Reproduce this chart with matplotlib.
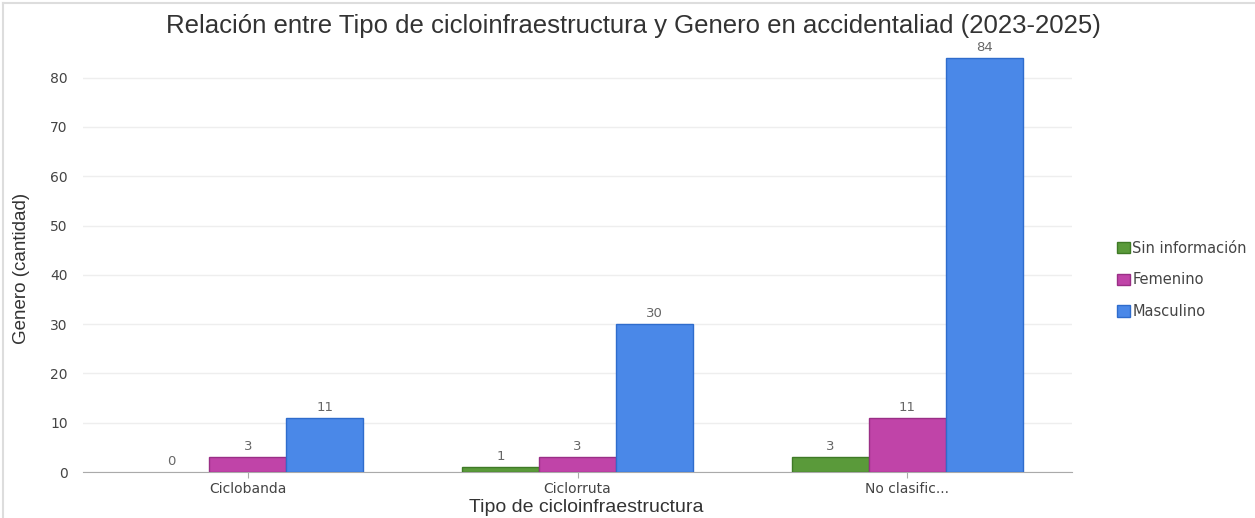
from matplotlib import pyplot as plt
from matplotlib.patches import Patch
from matplotlib.lines import Line2D
import numpy as np

categories = ['Ciclobanda', 'Ciclorruta', 'No clasific...']
series = ['Sin información', 'Femenino', 'Masculino']
sin_info = [0, 1, 3]
femenino = [3, 3, 11]
masculino = [11, 30, 84]

colors = ['#5a9a3a', '#c044a8', '#4a88e8']
edges = ['#3f7a26', '#9a2f86', '#2f6ccc']

W, H = 1255, 518
fig = plt.figure(figsize=(W / 100, H / 100), dpi=100)
ax = fig.add_axes([83 / W, 46 / H, (1072 - 83) / W, (472 - 53) / H])

x = np.arange(len(categories))
w = 0.7 / 3
for i, (vals, name) in enumerate(zip([sin_info, femenino, masculino], series)):
    pos = x + (i - 1) * w
    lw = [1 if v > 0 else 0 for v in vals]
    ax.bar(pos, vals, width=w, color=colors[i], edgecolor=edges[i], linewidth=lw, label=name, zorder=3)
    for p, v in zip(pos, vals):
        ax.text(p, v + 0.8, str(v), ha='center', va='bottom', fontsize=9.5, color='#666666',
                family='DejaVu Sans', clip_on=False)

ax.set_xlim(-0.5, 2.5)
ax.set_ylim(0, 85)
ax.set_yticks(np.arange(0, 81, 10))
ax.set_xticks(x)
ax.set_xticklabels(categories)
ax.grid(axis='y', color='#eeeeee', linewidth=1, zorder=0)
for s in ['top', 'right', 'left']:
    ax.spines[s].set_visible(False)
ax.spines['bottom'].set_color('#aaaaaa')
ax.tick_params(axis='y', length=0, labelsize=10, labelcolor='#444444', pad=11)
ax.tick_params(axis='x', length=4, color='#aaaaaa', labelsize=10, labelcolor='#444444', pad=3)
for t in ax.get_xticklabels() + ax.get_yticklabels():
    t.set_family('DejaVu Sans')

fig.text(633 / W, 1 - 26 / H, 'Relación entre Tipo de cicloinfraestructura y Genero en accidentaliad (2023-2025)',
         ha='center', va='center', fontsize=18.5, color='#333333', family='Liberation Sans')
fig.text(586 / W, 1 - 508 / H, 'Tipo de cicloinfraestructura', ha='center', va='center',
         fontsize=14, color='#333333', family='Liberation Sans')
fig.text(22 / W, 1 - 268 / H, 'Genero (cantidad)', ha='center', va='center', rotation=90,
         fontsize=13.5, color='#333333', family='Liberation Sans')

# thin frame lines at top and left edge
fig.add_artist(Line2D([3 / W, 1], [1 - 3 / H, 1 - 3 / H], color='#dddddd', linewidth=1.5))
fig.add_artist(Line2D([3 / W, 3 / W], [0, 1 - 3 / H], color='#dddddd', linewidth=1.5))

handles = [Patch(facecolor=c, edgecolor=e, label=s) for c, e, s in zip(colors, edges, series)]
leg = fig.legend(handles=handles, loc='center left', bbox_to_anchor=(1104 / W, 1 - 280 / H),
                 frameon=False, fontsize=10.5, handlelength=0.85, handleheight=0.85, handletextpad=0.2,
                 labelspacing=1.15)
for t in leg.get_texts():
    t.set_family('DejaVu Sans')
    t.set_color('#444444')

plt.savefig('out.png', dpi=100)
